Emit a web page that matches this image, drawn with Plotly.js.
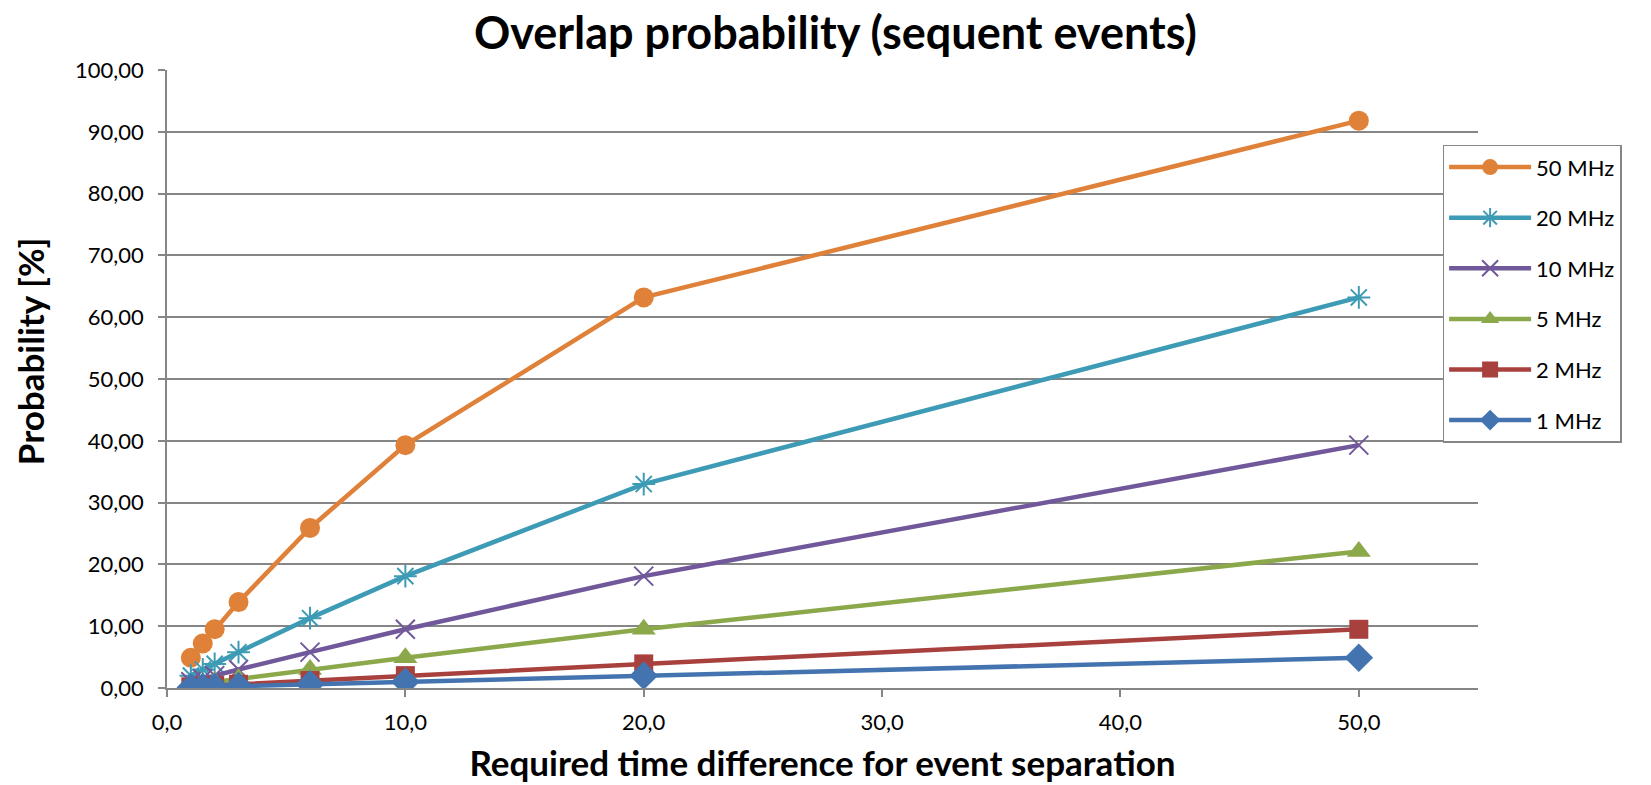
<!DOCTYPE html>
<html>
<head>
<meta charset="utf-8">
<script src="https://cdn.plot.ly/plotly-3.0.1.min.js"></script>
<style>html,body{margin:0;padding:0;background:#fff;}#chart{width:1651px;height:785px;}</style>
</head>
<body>
<div id="chart"></div>
<script>
const timeDiff = [1, 1.5, 2, 3, 6, 10, 20, 50];
const seriesNames = ["50 MHz", "20 MHz", "10 MHz", "5 MHz", "2 MHz", "1 MHz"];
const p50 = [4.9, 7.2, 9.5, 13.9, 25.9, 39.3, 63.2, 91.8];
const p20 = [2.0, 3.0, 3.9, 5.8, 11.3, 18.1, 33.0, 63.2];
const p10 = [1.0, 1.5, 2.0, 3.0, 5.8, 9.5, 18.1, 39.3];
const p5  = [0.5, 0.75, 1.0, 1.5, 3.0, 4.9, 9.5, 22.1];
const p2  = [0.2, 0.3, 0.4, 0.6, 1.2, 2.0, 3.9, 9.5];
const p1  = [0.1, 0.15, 0.2, 0.3, 0.6, 1.0, 2.0, 4.9];
const yTicks = [0, 10, 20, 30, 40, 50, 60, 70, 80, 90, 100];
const xTicks = [0, 10, 20, 30, 40, 50];

const values = [p50, p20, p10, p5, p2, p1];
const colors = ["#E0813A", "#3E9BB5", "#71589A", "#8BA84B", "#A8413E", "#4474AF"];
const symbols = ["circle", "asterisk-open", "x-thin-open", "triangle-up", "square", "diamond"];
const sizes = [20, 19, 19, 21, 19, 22];

const FONT = "Lato, 'Open Sans', sans-serif";

const data = values.map((v, i) => ({
  x: timeDiff,
  y: v,
  name: seriesNames[i],
  legendgroup: "g" + i,
  type: "scatter",
  mode: "lines+markers",
  line: {color: colors[i], width: 4.5},
  marker: {
    symbol: symbols[i],
    size: sizes[i],
    color: colors[i],
    line: {color: colors[i], width: (symbols[i].indexOf("open") >= 0) ? 2 : 0}
  }
}));

const layout = {
  width: 1651,
  height: 785,
  paper_bgcolor: "#ffffff",
  plot_bgcolor: "#ffffff",
  font: {family: FONT, color: "#000000", size: 22},
  separators: ",.",
  margin: {l: 167, r: 173, t: 70, b: 97, pad: 0},
  title: {
    text: "<b>Overlap probability (sequent events)</b>",
    font: {family: FONT, size: 45, color: "#000"},
    x: 0.506, xanchor: "center",
    y: 0.958, yanchor: "middle"
  },
  xaxis: {
    range: [0, 55],
    tickvals: xTicks,
    tickformat: ".1f",
    showgrid: false,
    zeroline: false,
    showline: true,
    linecolor: "#868686",
    linewidth: 1.5,
    ticks: "outside",
    ticklen: 7,
    tickcolor: "#868686",
    tickwidth: 1.5,
    ticklabelstandoff: 7,
    tickfont: {size: 22, family: FONT},
    title: {text: "<b>Required time difference for event separation</b>", font: {size: 35, family: FONT}, standoff: 17}
  },
  yaxis: {
    range: [0, 100],
    tickvals: yTicks,
    tickformat: ".2f",
    showgrid: true,
    gridcolor: "#868686",
    gridwidth: 1.5,
    zeroline: false,
    showline: true,
    linecolor: "#868686",
    linewidth: 1.5,
    ticks: "outside",
    ticklen: 7,
    tickcolor: "#868686",
    tickwidth: 1.5,
    ticklabelstandoff: 10,
    tickfont: {size: 22, family: FONT},
    title: {text: ""}
  },
  annotations: [{
    text: "<b>Probability [%]</b>",
    textangle: -90,
    xref: "paper", yref: "paper",
    x: -0.1045, y: 0.545,
    xanchor: "center", yanchor: "middle",
    showarrow: false,
    font: {size: 35, family: FONT, color: "#000"}
  }],
  showlegend: true,
  legend: {
    x: 0.973, xanchor: "left",
    y: 0.879, yanchor: "top",
    bgcolor: "#ffffff",
    bordercolor: "#868686",
    borderwidth: 1.5,
    font: {size: 22, family: FONT},
    traceorder: "grouped",
    tracegroupgap: 19,
    itemwidth: 82
  }
};

Plotly.newPlot("chart", data, layout, {displayModeBar: false});
</script>
</body>
</html>
